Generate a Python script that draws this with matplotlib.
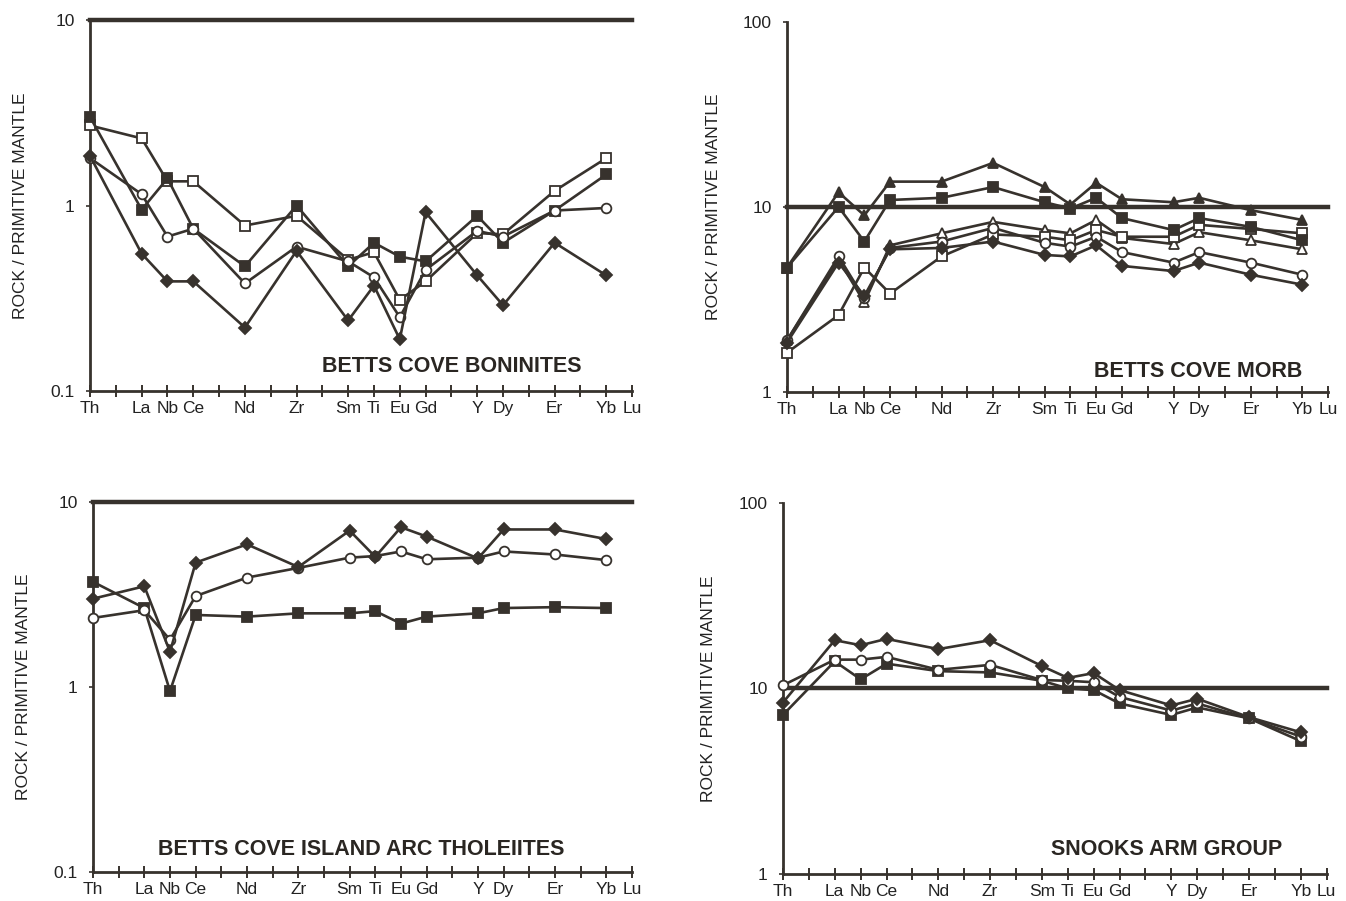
import matplotlib.pyplot as plt
from matplotlib.ticker import FixedLocator, NullLocator

plt.rcParams['font.family'] = ['Liberation Sans', 'DejaVu Sans']

# x-axis: element labels and their tick slots (22 evenly spaced ticks, 0..21)
elements = ["Th", "La", "Nb", "Ce", "Nd", "Zr", "Sm", "Ti", "Eu", "Gd",
            "Y", "Dy", "Er", "Yb", "Lu"]
slots = [0, 2, 3, 4, 6, 8, 10, 11, 12, 13, 15, 16, 18, 20, 21]
n_ticks = 22
pts = slots[:14]   # samples go Th .. Yb

# Betts Cove boninites
bon_fsq = [3.0, 0.95, 1.4, 0.75, 0.47, 1.0, 0.47, 0.63, 0.53, 0.5, 0.88, 0.63, 0.94, 1.47]
bon_osq = [2.7, 2.3, 1.35, 1.35, 0.78, 0.88, 0.51, 0.56, 0.31, 0.39, 0.71, 0.7, 1.2, 1.8]
bon_oci = [1.8, 1.15, 0.68, 0.75, 0.38, 0.6, 0.5, 0.41, 0.25, 0.45, 0.73, 0.68, 0.94, 0.97]
bon_dia = [1.85, 0.55, 0.39, 0.39, 0.22, 0.57, 0.24, 0.37, 0.19, 0.92, 0.42, 0.29, 0.63, 0.42]

# Betts Cove MORB
morb_ftr = [4.7, 12.0, 9.0, 13.7, 13.7, 17.3, 12.8, 10.3, 13.5, 11.0, 10.6, 11.2, 9.6, 8.5]
morb_fsq = [4.7, 10.0, 6.5, 10.9, 11.2, 12.8, 10.6, 9.8, 11.2, 8.7, 7.5, 8.7, 7.8, 6.6]
morb_otr = [1.9, 5.2, 3.05, 6.2, 7.2, 8.3, 7.5, 7.2, 8.5, 6.8, 6.3, 7.3, 6.6, 5.9]
morb_osq = [1.63, 2.6, 4.7, 3.4, 5.4, 7.1, 6.9, 6.6, 7.5, 6.9, 6.9, 8.0, 7.6, 7.2]
morb_oci = [1.9, 5.4, 3.2, 6.0, 6.5, 7.7, 6.4, 6.1, 6.9, 5.7, 5.0, 5.7, 5.0, 4.3]
morb_dia = [1.85, 5.0, 3.3, 5.9, 6.0, 6.5, 5.5, 5.4, 6.2, 4.8, 4.5, 5.0, 4.3, 3.8]

# Betts Cove island arc tholeiites
iat_dia = [3.0, 3.5, 1.55, 4.7, 5.9, 4.45, 7.0, 5.05, 7.3, 6.5, 4.95, 7.1, 7.1, 6.3]
iat_oci = [2.36, 2.6, 1.8, 3.1, 3.9, 4.4, 5.0, 5.1, 5.4, 4.9, 5.0, 5.4, 5.2, 4.85]
iat_fsq = [3.7, 2.67, 0.95, 2.45, 2.4, 2.5, 2.5, 2.57, 2.2, 2.4, 2.5, 2.67, 2.7, 2.67]

# Snooks Arm Group
sag_dia = [8.4, 18.2, 17.1, 18.5, 16.3, 18.2, 13.2, 11.4, 12.1, 9.8, 8.1, 8.8, 7.0, 5.8]
sag_oci = [10.4, 14.3, 14.3, 14.8, 12.6, 13.4, 11.1, 11.0, 10.8, 9.0, 7.6, 8.3, 6.9, 5.5]
sag_fsq = [7.2, 14.0, 11.2, 13.6, 12.4, 12.2, 11.0, 10.0, 9.8, 8.3, 7.2, 7.9, 6.9, 5.2]

ink = "#37322d"
styles = {
    "fsq": dict(marker="s", mfc=ink, ms=7),
    "osq": dict(marker="s", mfc="white", ms=7),
    "oci": dict(marker="o", mfc="white", ms=7),
    "dia": dict(marker="D", mfc=ink, ms=6),
    "ftr": dict(marker="^", mfc=ink, ms=7.5),
    "otr": dict(marker="^", mfc="white", ms=7.5),
}

# tick labels for all 22 ticks, blank where no element is named
tick_labels = [""] * n_ticks
for name, s in zip(elements, slots):
    tick_labels[s] = name


def panel(rect, series, ylim, yticks, ylabels, title, title_xy):
    ax = fig.add_axes(rect)
    ax.set_yscale("log")
    ax.set_xlim(0, n_ticks - 1)
    ax.set_ylim(*ylim)
    for kind, vals in series:
        ax.plot(pts, vals, color=ink, lw=1.9, mec=ink, mew=1.3,
                clip_on=False, zorder=3, **styles[kind])
    ax.axhline(10, color=ink, lw=3.2, clip_on=False, zorder=2)

    for s in ["top", "right"]:
        ax.spines[s].set_visible(False)
    for s in ["left", "bottom"]:
        ax.spines[s].set_linewidth(2)
        ax.spines[s].set_color(ink)

    ax.set_xticks(range(n_ticks))
    ax.set_xticklabels(tick_labels)
    ax.tick_params(axis="x", direction="inout", length=9, width=1.4,
                   color=ink, pad=3, labelsize=12.5, labelcolor="#222")

    ax.yaxis.set_major_locator(FixedLocator(yticks))
    ax.yaxis.set_minor_locator(NullLocator())
    ax.set_yticklabels(ylabels)
    ax.tick_params(axis="y", length=3, width=1.2, color=ink, pad=8,
                   labelsize=12.5, labelcolor="#222")
    ax.set_ylabel("ROCK / PRIMITIVE MANTLE", fontsize=12.5, color="#222",
                  labelpad=16)
    ax.text(title_xy[0], title_xy[1], title, transform=ax.transAxes,
            ha="center", va="center", fontsize=15.5, fontweight="bold",
            color="#2a2622")
    return ax


fig = plt.figure(figsize=(13.46, 9.01), dpi=100)

panel([0.0669, 0.566, 0.4027, 0.4118],
      [("osq", bon_osq), ("fsq", bon_fsq), ("oci", bon_oci), ("dia", bon_dia)],
      (0.1, 10), [0.1, 1, 10], ["0.1", "1", "10"],
      "BETTS COVE BONINITES", (0.667, 0.065))

panel([0.5847, 0.565, 0.4020, 0.4107],
      [("otr", morb_otr), ("osq", morb_osq), ("oci", morb_oci),
       ("dia", morb_dia), ("fsq", morb_fsq), ("ftr", morb_ftr)],
      (1, 100), [1, 10, 100], ["1", "10", "100"],
      "BETTS COVE MORB", (0.76, 0.055))

panel([0.0691, 0.0322, 0.4004, 0.4107],
      [("fsq", iat_fsq), ("oci", iat_oci), ("dia", iat_dia)],
      (0.1, 10), [0.1, 1, 10], ["0.1", "1", "10"],
      "BETTS COVE ISLAND ARC THOLEIITES", (0.497, 0.062))

panel([0.5817, 0.030, 0.4040, 0.4118],
      [("fsq", sag_fsq), ("oci", sag_oci), ("dia", sag_dia)],
      (1, 100), [1, 10, 100], ["1", "10", "100"],
      "SNOOKS ARM GROUP", (0.705, 0.065))

fig.savefig("out.png", dpi=100)
